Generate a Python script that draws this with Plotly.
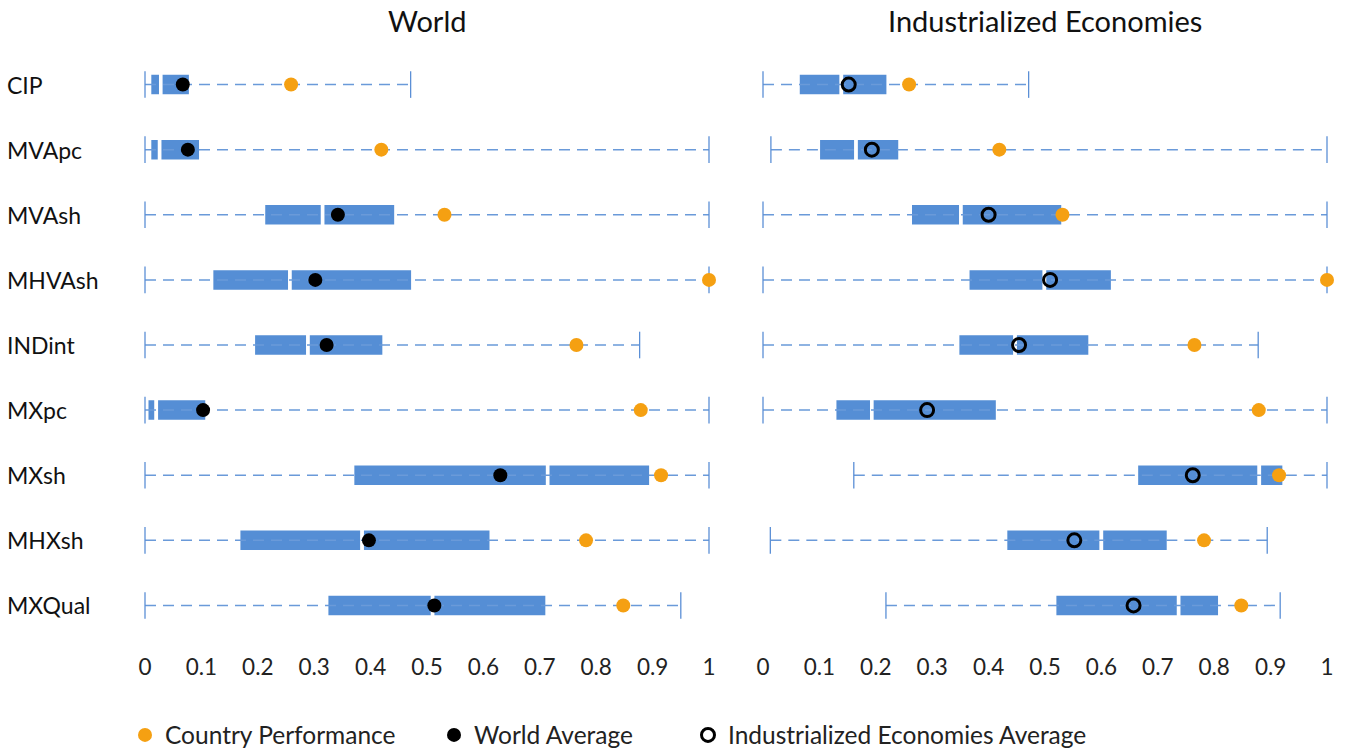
import plotly.graph_objects as go

categories = ["CIP", "MVApc", "MVAsh", "MHVAsh", "INDint", "MXpc", "MXsh", "MHXsh", "MXQual"]

# World panel
w_min = [0, 0, 0, 0, 0, 0, 0, 0, 0]
w_q1 = [0.008, 0.008, 0.210, 0.118, 0.192, 0.003, 0.368, 0.166, 0.322]
w_med = [0.028, 0.026, 0.315, 0.257, 0.289, 0.020, 0.714, 0.385, 0.510]
w_q3 = [0.081, 0.099, 0.445, 0.475, 0.424, 0.110, 0.897, 0.614, 0.713]
w_max = [0.471, 1.0, 1.0, 1.0, 0.877, 1.0, 1.0, 1.0, 0.950]
w_avg = [0.067, 0.076, 0.342, 0.302, 0.322, 0.103, 0.630, 0.397, 0.513]

# Industrialized Economies panel
i_min = [0, 0.014, 0, 0, 0, 0, 0.161, 0.013, 0.218]
i_q1 = [0.062, 0.098, 0.261, 0.363, 0.345, 0.127, 0.662, 0.430, 0.517]
i_med = [0.139, 0.165, 0.351, 0.499, 0.447, 0.193, 0.880, 0.600, 0.737]
i_q3 = [0.222, 0.243, 0.532, 0.620, 0.580, 0.416, 0.924, 0.719, 0.810]
i_max = [0.471, 1.0, 1.0, 1.0, 0.878, 1.0, 1.0, 0.894, 0.917]
i_avg = [0.152, 0.193, 0.400, 0.509, 0.454, 0.291, 0.762, 0.552, 0.657]

# Country performance (same in both panels)
country = [0.259, 0.419, 0.531, 1.0, 0.765, 0.879, 0.915, 0.782, 0.848]

x_ticks = [0, 0.1, 0.2, 0.3, 0.4, 0.5, 0.6, 0.7, 0.8, 0.9, 1]
x_tick_text = ["0", "0.1", "0.2", "0.3", "0.4", "0.5", "0.6", "0.7", "0.8", "0.9", "1"]

panel_titles = ["World", "Industrialized Economies"]
legend_names = ["Country Performance", "World Average", "Industrialized Economies Average"]

FONT = "Lato"
BOX = "#558ED5"
DASH = "#6A9AD9"
CAP = "#5B8FD6"
ORANGE = "#F5A012"

fig = go.Figure()


def add_panel(mn, q1, med, q3, mx, xa, ya):
    lx, ly = [], []
    for c, a, b in zip(categories, mn, mx):
        lx += [a, b, None]
        ly += [c, c, None]
    fig.add_trace(go.Scatter(x=lx, y=ly, mode="lines", xaxis=xa, yaxis=ya,
                             line=dict(color=DASH, width=1.5, dash="11px,7px"),
                             showlegend=False, hoverinfo="skip", cliponaxis=False))
    fig.add_trace(go.Scatter(x=mn + mx, y=categories + categories, mode="markers",
                             xaxis=xa, yaxis=ya,
                             marker=dict(symbol="line-ns", size=19, line=dict(color=CAP, width=1.3)),
                             showlegend=False, hoverinfo="skip", cliponaxis=False))
    fig.add_trace(go.Bar(y=categories, x=[m - a for a, m in zip(q1, med)], base=q1,
                         orientation="h", width=0.355, xaxis=xa, yaxis=ya,
                         marker=dict(color=BOX, line=dict(color="white", width=3.6)),
                         showlegend=False, hoverinfo="skip"))
    fig.add_trace(go.Bar(y=categories, x=[b - m for m, b in zip(med, q3)], base=med,
                         orientation="h", width=0.355, xaxis=xa, yaxis=ya,
                         marker=dict(color=BOX, line=dict(color="white", width=3.6)),
                         showlegend=False, hoverinfo="skip"))


add_panel(w_min, w_q1, w_med, w_q3, w_max, "x", "y")
add_panel(i_min, i_q1, i_med, i_q3, i_max, "x2", "y2")

# Country performance dots
fig.add_trace(go.Scatter(x=country, y=categories, mode="markers", xaxis="x", yaxis="y",
                         name=legend_names[0], legend="legend",
                         marker=dict(color=ORANGE, size=14, line=dict(width=0)),
                         cliponaxis=False))
fig.add_trace(go.Scatter(x=country, y=categories, mode="markers", xaxis="x2", yaxis="y2",
                         name=legend_names[0], showlegend=False,
                         marker=dict(color=ORANGE, size=14, line=dict(width=0)),
                         cliponaxis=False))
# World average
fig.add_trace(go.Scatter(x=w_avg, y=categories, mode="markers", xaxis="x", yaxis="y",
                         name=legend_names[1], legend="legend2",
                         marker=dict(color="black", size=14, line=dict(width=0)),
                         cliponaxis=False))
# Industrialized average
fig.add_trace(go.Scatter(x=i_avg, y=categories, mode="markers", xaxis="x2", yaxis="y2",
                         name=legend_names[2], legend="legend3",
                         marker=dict(symbol="circle-open", color="black", size=13,
                                     line=dict(width=3, color="black")),
                         cliponaxis=False))

W, H = 1352, 754
mt, mb = 52, 116
ph = H - mt - mb

xcommon = dict(range=[0, 1], tickvals=x_ticks, ticktext=x_tick_text, showgrid=False,
               zeroline=False, showline=False, ticks="", automargin=False,
               tickfont=dict(family=FONT, size=22.5, color="#222"), ticklabelstandoff=13)
ycommon = dict(type="category", categoryorder="array", categoryarray=categories,
               range=[8.5, -0.5], showgrid=False, zeroline=False, showline=False,
               showticklabels=False, ticks="", automargin=False)

leg_common = dict(orientation="h", yanchor="middle", y=-97 / ph, xanchor="left",
                  font=dict(family=FONT, size=24.5, color="#222"), bgcolor="rgba(0,0,0,0)",
                  itemclick=False, itemdoubleclick=False)

fig.update_layout(
    width=W, height=H,
    margin=dict(l=0, r=0, t=mt, b=mb, autoexpand=False),
    plot_bgcolor="white", paper_bgcolor="white",
    barmode="overlay",
    xaxis=dict(domain=[145 / W, 709 / W], anchor="y", **xcommon),
    xaxis2=dict(domain=[763 / W, 1327 / W], anchor="y2", **xcommon),
    yaxis=dict(domain=[0, 1], anchor="x", **ycommon),
    yaxis2=dict(domain=[0, 1], anchor="x2", **ycommon),
    legend=dict(x=(145 - 20) / W, **leg_common),
    legend2=dict(x=(452 - 18) / W, **leg_common),
    legend3=dict(x=(707 - 19) / W, **leg_common),
    showlegend=True,
)

# Panel titles
for t, cx in zip(panel_titles, [(145 + 709) / 2 / W, (763 + 1327) / 2 / W]):
    fig.add_annotation(text=t, x=cx, y=1 + (mt - 20) / ph, xref="paper", yref="paper",
                       xanchor="center", yanchor="middle", showarrow=False,
                       font=dict(family=FONT, size=29, color="#111"))

# Category labels
for c in categories:
    fig.add_annotation(text=c, x=5 / W, y=c, xref="paper", yref="y",
                       xanchor="left", yanchor="middle", showarrow=False,
                       font=dict(family=FONT, size=23, color="#111"))

fig.write_html("out.html", config={"displayModeBar": False},
               post_script="document.body.style.margin='0';document.body.style.overflow='hidden';")
